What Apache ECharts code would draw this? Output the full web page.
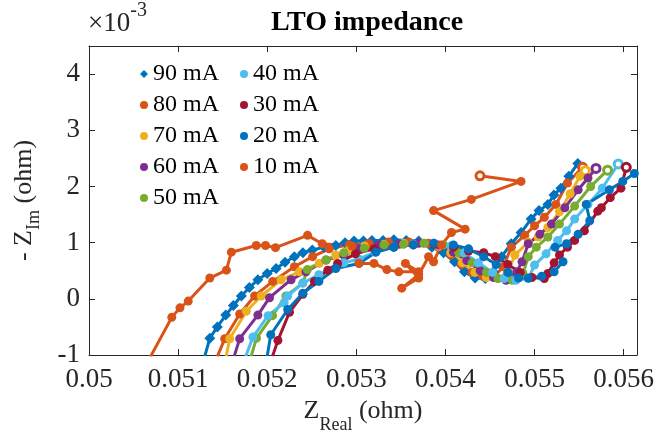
<!DOCTYPE html>
<html>
<head>
<meta charset="utf-8">
<title>LTO impedance</title>
<script src="https://cdn.jsdelivr.net/npm/echarts/dist/echarts.min.js"></script>
<style>
    html, body { margin: 0; padding: 0; background: #fff; }
    #chart { width: 657px; height: 439px; }
</style>
</head>
<body>
<div id="chart"></div>
<script>
    // Nyquist data: [Z_Real (ohm), -Z_Im (x1e-3 ohm)]
    var s90 = [[0.05130,-1.02],[0.051356,-0.70],[0.05144,-0.50],[0.051535,-0.29],[0.05162,-0.12],[0.05171,0.05],[0.0518,0.20],[0.051895,0.34],[0.052,0.45],[0.0521,0.54],[0.0522,0.65],[0.052305,0.75],[0.0524,0.82],[0.052506,0.87],[0.05264,0.92],[0.05277,0.95],[0.052874,1.00],[0.052974,1.03],[0.05308,1.03],[0.053175,1.04],[0.0533,1.04],[0.053421,1.05],[0.05356,1.04],[0.0537,1.03],[0.053848,0.92],[0.053979,0.82],[0.054102,0.66],[0.054213,0.48],[0.054333,0.37],[0.054448,0.36],[0.054537,0.48],[0.05463,0.75],[0.054738,0.98],[0.054849,1.18],[0.054961,1.42],[0.05505,1.57],[0.05515,1.68],[0.055218,1.85],[0.055296,1.97],[0.055385,2.18],[0.055486,2.41]];
    var s80 = [[0.05144,-1.03],[0.051523,-0.71],[0.051691,-0.27],[0.051858,0.05],[0.052062,0.31],[0.052305,0.57],[0.052509,0.75],[0.052696,0.89],[0.052919,0.96],[0.05314,0.99],[0.05336,1.01],[0.05359,1.01],[0.05381,0.99],[0.053923,0.92],[0.05406,0.78],[0.05418,0.61],[0.0543,0.47],[0.05442,0.40],[0.05455,0.40],[0.05465,0.57],[0.05474,0.92],[0.05489,1.13],[0.0550,1.30],[0.05511,1.45],[0.05524,1.68],[0.05537,2.06],[0.05554,2.34]];
    var s70 = [[0.05154,-1.02],[0.051579,-0.71],[0.051766,-0.22],[0.051933,0.05],[0.052156,0.34],[0.052361,0.48],[0.052584,0.63],[0.05277,0.78],[0.05292,0.87],[0.05309,0.94],[0.05331,0.97],[0.05353,0.99],[0.05376,0.99],[0.05392,0.94],[0.05406,0.82],[0.05419,0.64],[0.05433,0.47],[0.05446,0.38],[0.05459,0.36],[0.0547,0.48],[0.05478,0.78],[0.05493,1.01],[0.05504,1.10],[0.05515,1.27],[0.05528,1.55],[0.0554,1.87],[0.05551,2.18],[0.05557,2.28]];
    var s60 = [[0.05163,-1.02],[0.051691,-0.71],[0.051895,-0.29],[0.052026,0.02],[0.052268,0.34],[0.052435,0.48],[0.05266,0.69],[0.05286,0.78],[0.05303,0.89],[0.05325,0.96],[0.05348,0.97],[0.0537,0.99],[0.05392,0.96],[0.05409,0.83],[0.05424,0.68],[0.05439,0.50],[0.05454,0.38],[0.05468,0.33],[0.0548,0.48],[0.05486,0.66],[0.05493,0.98],[0.05506,1.15],[0.05519,1.33],[0.05534,1.62],[0.05549,1.94],[0.0556,2.15],[0.05569,2.32]];
    var s50 = [[0.05182,-1.02],[0.05188,-0.70],[0.05206,-0.30],[0.05221,0.05],[0.0524,0.28],[0.05245,0.52],[0.05266,0.69],[0.05286,0.82],[0.05309,0.90],[0.05331,0.96],[0.05353,0.97],[0.05376,0.99],[0.05398,0.96],[0.05415,0.82],[0.0543,0.64],[0.05446,0.47],[0.05459,0.36],[0.05475,0.33],[0.05487,0.45],[0.05493,0.75],[0.05502,0.92],[0.05515,1.10],[0.05528,1.33],[0.05545,1.65],[0.05563,2.00],[0.05582,2.29]];
    var s40 = [[0.05176,-1.02],[0.05184,-0.68],[0.05201,-0.30],[0.05219,-0.07],[0.05223,0.05],[0.0524,0.28],[0.05258,0.43],[0.05286,0.64],[0.05303,0.71],[0.05321,0.83],[0.05342,0.92],[0.05364,0.97],[0.05387,0.99],[0.05406,0.94],[0.05421,0.82],[0.05437,0.64],[0.05453,0.47],[0.05466,0.36],[0.05479,0.33],[0.05493,0.36],[0.0550,0.60],[0.05513,0.80],[0.05526,1.04],[0.05536,1.21],[0.05545,1.42],[0.0556,1.68],[0.05576,1.97],[0.05594,2.40]];
    var s30 = [[0.05206,-1.02],[0.05212,-0.74],[0.05225,-0.24],[0.0524,0.08],[0.05253,0.31],[0.05268,0.51],[0.05279,0.63],[0.05299,0.80],[0.0532,0.89],[0.05342,0.92],[0.05364,0.96],[0.05387,0.97],[0.05409,0.92],[0.05426,0.85],[0.05443,0.82],[0.05456,0.75],[0.0547,0.61],[0.05484,0.47],[0.05497,0.38],[0.05511,0.36],[0.05515,0.45],[0.05522,0.64],[0.05528,0.78],[0.05537,0.92],[0.05545,1.04],[0.05556,1.21],[0.05571,1.56],[0.05575,1.62],[0.05585,1.80],[0.05597,1.97],[0.05603,2.34]];
    var s20 = [[0.0520,-1.02],[0.05204,-0.64],[0.05223,-0.19],[0.0524,0.10],[0.05258,0.31],[0.05277,0.54],[0.05303,0.63],[0.05322,0.83],[0.05342,0.92],[0.05364,0.96],[0.05387,0.99],[0.05409,0.96],[0.05426,0.89],[0.05443,0.75],[0.05457,0.61],[0.0547,0.47],[0.05482,0.37],[0.05493,0.37],[0.05508,0.40],[0.05522,0.48],[0.05532,0.66],[0.05523,0.92],[0.05536,0.98],[0.05549,1.15],[0.05562,1.39],[0.05558,1.68],[0.05584,1.94],[0.05599,2.09],[0.05612,2.23]];
    var s10 = [[0.05069,-1.03],[0.050929,-0.33],[0.051021,-0.16],[0.051114,-0.04],[0.051356,0.37],[0.051542,0.51],[0.051598,0.83],[0.051877,0.95],[0.051981,0.95],[0.052093,0.91],[0.052453,1.13],[0.052617,0.98],[0.052952,0.94],[0.05303,0.63],[0.053198,0.63],[0.053343,0.52],[0.053477,0.48],[0.0537,0.48],[0.053551,0.63],[0.0537,0.37],[0.05351,0.19],[0.0537,0.43],[0.053811,0.75],[0.053867,0.66],[0.053956,0.96],[0.054068,1.18],[0.054221,1.24],[0.053867,1.57],[0.054291,1.77],[0.054849,2.09],[0.054388,2.19]];

    var names = ['90 mA', '80 mA', '70 mA', '60 mA', '50 mA', '40 mA', '30 mA', '20 mA', '10 mA'];
    var curves = [s90, s80, s70, s60, s50, s40, s30, s20, s10];
    var colors = ['#0072BD', '#D95319', '#EDB120', '#7E2F8E', '#77AC30', '#4DBEEE', '#A2142F', '#0072BD', '#D95319'];
    var ringEnd = [false, true, true, true, true, true, true, false, true];
    var xTicks = [0.05, 0.051, 0.052, 0.053, 0.054, 0.055, 0.056];
    var yTicks = [-1, 0, 1, 2, 3, 4];

    var font = '"Liberation Serif", "Times New Roman", serif';
    var axisColor = '#262626';

    var chart = echarts.init(document.getElementById('chart'));

    var series = curves.map(function (d, i) {
        return {
            name: names[i],
            type: 'line',
            symbol: i === 0 ? 'diamond' : 'circle',
            symbolSize: i === 0 ? 11 : 9,
            showAllSymbol: true,
            clip: true,
            animation: false,
            lineStyle: { width: 3, color: colors[i] },
            itemStyle: { color: colors[i] },
            data: d.map(function (p, j) {
                if (ringEnd[i] && j === d.length - 1) {
                    return { value: p, symbolSize: 8, itemStyle: { color: '#fff', borderColor: colors[i], borderWidth: 3 } };
                }
                return p;
            })
        };
    });

    function legendData(list) {
        return list.map(function (n) {
            return { name: n, icon: n === '90 mA' ? 'diamond' : 'circle' };
        });
    }

    var legendBase = {
        orient: 'vertical',
        itemWidth: 8,
        itemHeight: 8,
        itemGap: 7,
        selectedMode: false,
        textStyle: { fontFamily: font, fontSize: 24, color: '#000', lineHeight: 24 }
    };

    var tickLabel = function (v) {
        for (var k = 0; k < xTicks.length; k++) {
            if (Math.abs(v - xTicks[k]) < 1e-9) return String(xTicks[k]);
        }
        return '';
    };
    var yLabel = function (v) {
        for (var k = 0; k < yTicks.length; k++) {
            if (Math.abs(v - yTicks[k]) < 1e-9) return String(yTicks[k]);
        }
        return '';
    };

    var axisBase = {
        type: 'value',
        axisLine: { show: true, onZero: false, lineStyle: { color: axisColor, width: 1 } },
        axisTick: { show: true, inside: true, length: 6, lineStyle: { color: axisColor, width: 1 } },
        splitLine: { show: false }
    };

    var option = {
        backgroundColor: '#fff',
        animation: false,
        title: {
            text: 'LTO impedance',
            left: 266,
            top: 4,
            textStyle: { fontFamily: font, fontSize: 28, fontWeight: 'bold', color: '#000' }
        },
        legend: [
            Object.assign({ left: 135, top: 57, data: legendData(names.slice(0, 5)) }, legendBase),
            Object.assign({ left: 235, top: 57, data: legendData(names.slice(5)) }, legendBase)
        ],
        grid: { left: 89, right: 18, top: 46, bottom: 79, containLabel: false },
        xAxis: [
            Object.assign({}, axisBase, {
                min: 0.05, max: 0.05615, interval: 0.001,
                axisLabel: { formatter: tickLabel, color: axisColor, fontFamily: font, fontSize: 27, margin: 11 },
                name: '{a|Z}{s|Real}{a| (ohm)}',
                nameLocation: 'middle',
                nameGap: 43,
                nameTextStyle: {
                    color: axisColor,
                    rich: {
                        a: { fontFamily: font, fontSize: 26, color: axisColor, lineHeight: 36, verticalAlign: 'top' },
                        s: { fontFamily: font, fontSize: 18, color: axisColor, lineHeight: 14, verticalAlign: 'bottom' }
                    }
                }
            }),
            Object.assign({}, axisBase, {
                position: 'top',
                min: 0.05, max: 0.05615, interval: 0.001,
                axisLabel: { show: false }
            })
        ],
        yAxis: [
            Object.assign({}, axisBase, {
                min: -1, max: 4.5, interval: 1,
                axisLabel: { formatter: yLabel, color: axisColor, fontFamily: font, fontSize: 27, margin: 9 },
                name: '{a|- Z}{s|Im}{a| (ohm)}',
                nameLocation: 'middle',
                nameRotate: 90,
                nameGap: 46,
                nameTextStyle: {
                    color: axisColor,
                    rich: {
                        a: { fontFamily: font, fontSize: 26, color: axisColor, lineHeight: 32, verticalAlign: 'top' },
                        s: { fontFamily: font, fontSize: 18, color: axisColor, lineHeight: 14, verticalAlign: 'bottom' }
                    }
                }
            }),
            Object.assign({}, axisBase, {
                position: 'right',
                min: -1, max: 4.5, interval: 1,
                axisLabel: { show: false }
            })
        ],
        graphic: [
            {
                type: 'text',
                x: 88,
                y: 1,
                style: {
                    text: '{a|\u00d710}{b|-3}',
                    rich: {
                        a: { fontFamily: font, fontSize: 27, fill: axisColor, lineHeight: 36, verticalAlign: 'bottom' },
                        b: { fontFamily: font, fontSize: 20, fill: axisColor, lineHeight: 22, verticalAlign: 'top' }
                    }
                }
            }
        ],
        series: series
    };

    chart.setOption(option);
    window.addEventListener('resize', function () {
        chart.resize();
    });
</script>
</body>
</html>
